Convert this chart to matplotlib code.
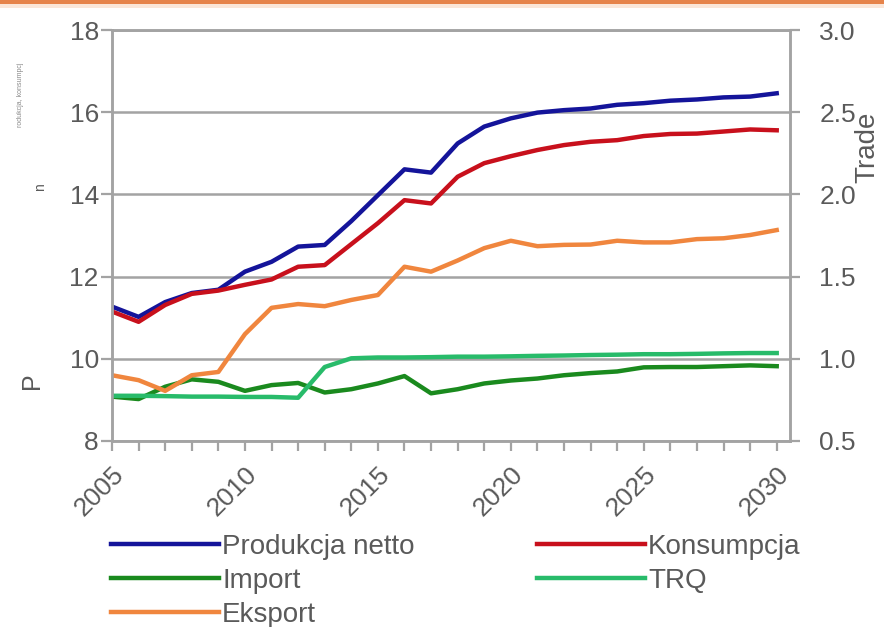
import numpy as np
import matplotlib
matplotlib.use('Agg')
import matplotlib.pyplot as plt
from matplotlib.patches import Rectangle

plt.rcParams['font.family'] = ['Liberation Sans', 'DejaVu Sans']

years = list(range(2005, 2031))

# left axis (production / consumption)
produkcja = [11.27, 11.02, 11.38, 11.60, 11.68, 12.12, 12.36, 12.73, 12.77, 13.35,
             13.98, 14.61, 14.53, 15.24, 15.65, 15.85, 15.99, 16.05, 16.09, 16.18,
             16.22, 16.28, 16.31, 16.36, 16.38, 16.46]
konsumpcja = [11.15, 10.90, 11.31, 11.58, 11.66, 11.80, 11.93, 12.24, 12.28, 12.79,
              13.30, 13.86, 13.78, 14.43, 14.76, 14.93, 15.08, 15.20, 15.28, 15.32,
              15.42, 15.47, 15.48, 15.53, 15.58, 15.56]

# right axis (trade)
import_ = [0.770, 0.755, 0.830, 0.875, 0.860, 0.805, 0.840, 0.853, 0.795, 0.815,
           0.850, 0.895, 0.790, 0.815, 0.850, 0.868, 0.880, 0.900, 0.913, 0.923,
           0.948, 0.950, 0.950, 0.955, 0.960, 0.955]
trq = [0.775, 0.775, 0.773, 0.770, 0.770, 0.768, 0.768, 0.763, 0.950, 1.003,
       1.008, 1.008, 1.010, 1.013, 1.013, 1.015, 1.018, 1.020, 1.023, 1.025,
       1.028, 1.028, 1.030, 1.033, 1.035, 1.035]
eksport = [0.900, 0.870, 0.805, 0.900, 0.920, 1.150, 1.310, 1.333, 1.320, 1.358,
           1.388, 1.560, 1.530, 1.598, 1.673, 1.718, 1.685, 1.693, 1.695, 1.718,
           1.708, 1.708, 1.728, 1.733, 1.753, 1.783]

grey = '#a3a3a3'
txt = '#5a5a5a'
lw = 3.2

fig = plt.figure(figsize=(8.84, 6.27), dpi=100)
ax = fig.add_axes([112/884, 1 - 441/627, (790 - 112)/884, (441 - 30)/627])
ax2 = ax.twinx()

l1, = ax.plot(years, produkcja, color='#14149a', lw=lw, label='Produkcja netto')
l2, = ax.plot(years, konsumpcja, color='#c8101c', lw=lw, label='Konsumpcja')
l3, = ax2.plot(years, import_, color='#1a8a1e', lw=lw, label='Import')
l4, = ax2.plot(years, trq, color='#28bb6a', lw=lw, label='TRQ')
l5, = ax2.plot(years, eksport, color='#f0863e', lw=lw, label='Eksport')

ax.set_xlim(2005, 2030.5)
ax.set_ylim(8, 18)
ax2.set_ylim(0.5, 3.0)
ax.set_yticks(range(8, 19, 2))
ax2.set_yticks([0.5, 1.0, 1.5, 2.0, 2.5, 3.0])
ax2.set_yticklabels(['0.5', '1.0', '1.5', '2.0', '2.5', '3.0'])
ax.set_xticks(years)
ax.set_xticklabels([str(y) if y % 5 == 0 else '' for y in years])

ax.yaxis.grid(True, color=grey, lw=1.8)
ax.set_axisbelow(True)
for a in (ax, ax2):
    for s in a.spines.values():
        s.set_color(grey)
        s.set_linewidth(1.8)

ax.tick_params(axis='y', direction='out', length=8, width=1.6, color=grey,
               labelcolor=txt, labelsize=19, pad=1.5)
ax.tick_params(axis='x', direction='out', length=7, width=1.6, color=grey,
               labelcolor=txt, labelsize=19, pad=8)
ax2.tick_params(axis='y', direction='out', length=7, width=1.6, color=grey,
                labelcolor=txt, labelsize=19, pad=14)
for lab in ax.get_xticklabels():
    lab.set_rotation(45)
    lab.set_ha('right')
    lab.set_va('top')
    lab.set_rotation_mode('anchor')

# axis titles
fig.text(867/884, 1 - 147/627, 'Trade', rotation=90, ha='center', va='center',
         fontsize=20, color=txt)
fig.text(20/884, 1 - 95/627, 'rodukcja, konsumpcj', rotation=90, ha='center',
         va='center', fontsize=5, color='#8a8a8a')
fig.text(40/884, 1 - 187/627, 'n', rotation=90, ha='center', va='center',
         fontsize=10, color=txt)
fig.text(32/884, 1 - 381/627, 'P', rotation=90, ha='center', va='center',
         fontsize=18, color=txt)

# orange rule along the top edge
fig.add_artist(Rectangle((0, 1 - 8/627), 1, 8/627, transform=fig.transFigure,
                         color='#fbe6d8', lw=0))
fig.add_artist(Rectangle((0, 1 - 4/627), 1, 4/627, transform=fig.transFigure,
                         color='#e6834a', lw=0))

fig.legend(handles=[l1, l3, l5, l2, l4], ncol=2, loc='upper left',
           bbox_to_anchor=(111/884, 1 - 534/627), frameon=False, fontsize=20,
           handlelength=3.9, handletextpad=0.1, columnspacing=4.4,
           labelspacing=0.28, borderpad=0, borderaxespad=0, labelcolor=txt)

fig.savefig('out.png', dpi=100)
